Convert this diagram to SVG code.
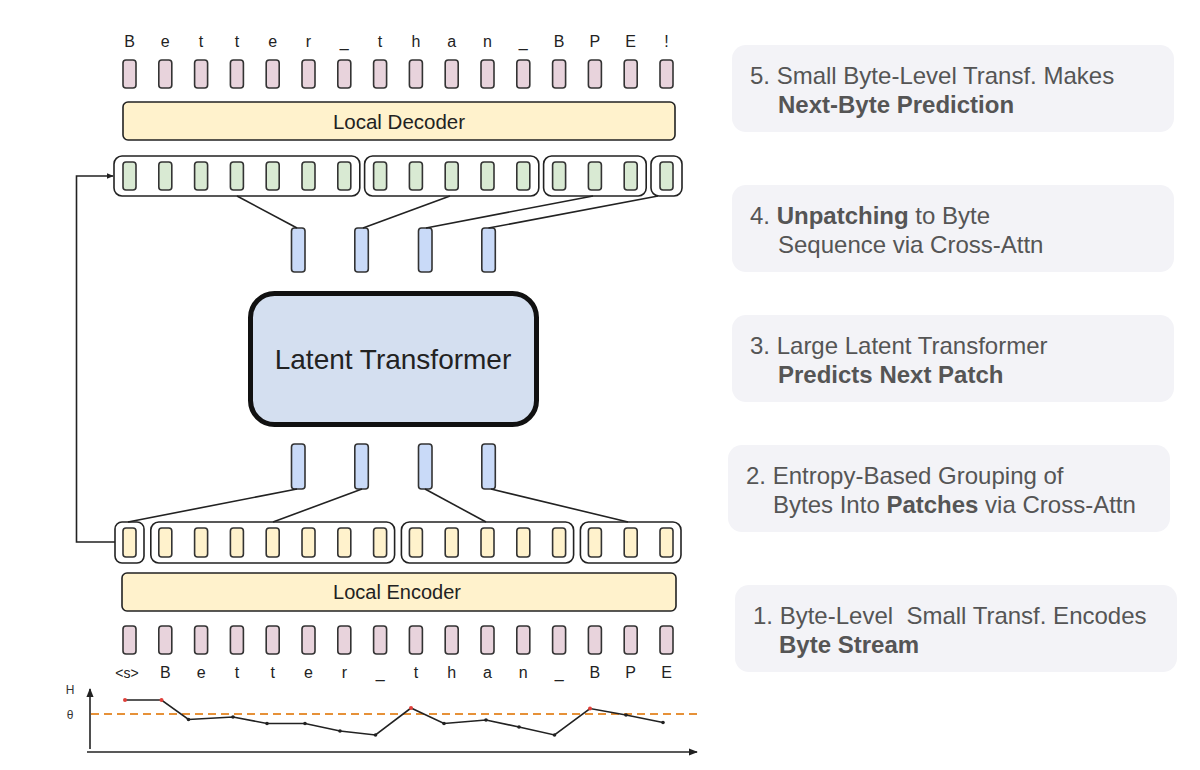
<svg xmlns="http://www.w3.org/2000/svg" width="1200" height="770" viewBox="0 0 1200 770">
<defs>
<style>
.lbl{font-family:"Liberation Sans",Arial,sans-serif;fill:#222;text-anchor:middle}
.let{font-size:16px}
.byte{stroke:#333;stroke-width:1.6}
.pink{fill:#e8d3dc}
.green{fill:#d9ead3}
.yellow{fill:#fff2cc}
.blue{fill:#c9daf8;stroke:#333;stroke-width:1.6}
.grp{fill:none;stroke:#222;stroke-width:1.6}
.conn{stroke:#222;stroke-width:1.6;fill:none}
.panel{fill:#f3f3f7}
.pt{font-family:"Liberation Sans",Arial,sans-serif;font-size:24px;fill:#555}
.b{font-weight:bold}
</style>
<marker id="ah" viewBox="0 0 10 10" refX="9" refY="5" markerWidth="7" markerHeight="7" orient="auto" markerUnits="userSpaceOnUse">
<path d="M0,1 L10,5 L0,9 z" fill="#222"/>
</marker>
<marker id="ax" viewBox="0 0 10 10" refX="9" refY="5" markerWidth="9" markerHeight="9" orient="auto" markerUnits="userSpaceOnUse">
<path d="M0,1 L10,5 L0,9 z" fill="#222"/>
</marker>
</defs>
<rect width="1200" height="770" fill="#fff"/>

<g id="output-letters" class="lbl let">
<text x="129.5" y="47">B</text><text x="165.3" y="47">e</text><text x="201.1" y="47">t</text><text x="236.9" y="47">t</text>
<text x="272.7" y="47">e</text><text x="308.5" y="47">r</text><text x="344.3" y="47">_</text><text x="380.1" y="47">t</text>
<text x="415.9" y="47">h</text><text x="451.7" y="47">a</text><text x="487.5" y="47">n</text><text x="523.3" y="47">_</text>
<text x="559.1" y="47">B</text><text x="594.9" y="47">P</text><text x="630.7" y="47">E</text><text x="666.5" y="47">!</text>
</g>

<g id="output-bytes" class="byte pink">
<rect x="123" y="60" width="13" height="28" rx="3"/><rect x="158.8" y="60" width="13" height="28" rx="3"/>
<rect x="194.6" y="60" width="13" height="28" rx="3"/><rect x="230.4" y="60" width="13" height="28" rx="3"/>
<rect x="266.2" y="60" width="13" height="28" rx="3"/><rect x="302" y="60" width="13" height="28" rx="3"/>
<rect x="337.8" y="60" width="13" height="28" rx="3"/><rect x="373.6" y="60" width="13" height="28" rx="3"/>
<rect x="409.4" y="60" width="13" height="28" rx="3"/><rect x="445.2" y="60" width="13" height="28" rx="3"/>
<rect x="481" y="60" width="13" height="28" rx="3"/><rect x="516.8" y="60" width="13" height="28" rx="3"/>
<rect x="552.6" y="60" width="13" height="28" rx="3"/><rect x="588.4" y="60" width="13" height="28" rx="3"/>
<rect x="624.2" y="60" width="13" height="28" rx="3"/><rect x="660" y="60" width="13" height="28" rx="3"/>
</g>

<g id="local-decoder">
<rect x="123" y="102" width="552" height="38" rx="5" fill="#fff2cc" stroke="#222" stroke-width="1.6"/>
<text class="lbl" x="399" y="129" font-size="20.5">Local Decoder</text>
</g>

<g id="decoder-patches">
<rect class="grp" x="114" y="156" width="245.8" height="40" rx="8"/>
<rect class="grp" x="364.6" y="156" width="174.2" height="40" rx="8"/>
<rect class="grp" x="543.6" y="156" width="102.6" height="40" rx="8"/>
<rect class="grp" x="651" y="156" width="31" height="40" rx="8"/>
<g class="byte green">
<rect x="123" y="162" width="13" height="28" rx="3"/><rect x="158.8" y="162" width="13" height="28" rx="3"/>
<rect x="194.6" y="162" width="13" height="28" rx="3"/><rect x="230.4" y="162" width="13" height="28" rx="3"/>
<rect x="266.2" y="162" width="13" height="28" rx="3"/><rect x="302" y="162" width="13" height="28" rx="3"/>
<rect x="337.8" y="162" width="13" height="28" rx="3"/><rect x="373.6" y="162" width="13" height="28" rx="3"/>
<rect x="409.4" y="162" width="13" height="28" rx="3"/><rect x="445.2" y="162" width="13" height="28" rx="3"/>
<rect x="481" y="162" width="13" height="28" rx="3"/><rect x="516.8" y="162" width="13" height="28" rx="3"/>
<rect x="552.6" y="162" width="13" height="28" rx="3"/><rect x="588.4" y="162" width="13" height="28" rx="3"/>
<rect x="624.2" y="162" width="13" height="28" rx="3"/><rect x="660" y="162" width="13" height="28" rx="3"/>
</g>
</g>

<g id="upper-patch-vectors">
<rect class="blue" x="291.5" y="228" width="13.5" height="44" rx="3"/>
<rect class="blue" x="354.8" y="228" width="13.5" height="44" rx="3"/>
<rect class="blue" x="418.5" y="228" width="13.5" height="44" rx="3"/>
<rect class="blue" x="481.8" y="228" width="13.5" height="44" rx="3"/>
</g>

<g id="latent-transformer">
<rect x="250.5" y="293.5" width="286" height="131" rx="24" fill="#d4dff0" stroke="#111" stroke-width="5"/>
<text class="lbl" x="393" y="369" font-size="28" fill="#111">Latent Transformer</text>
</g>

<g id="lower-patch-vectors">
<rect class="blue" x="291.5" y="444" width="13.5" height="45" rx="3"/>
<rect class="blue" x="354.8" y="444" width="13.5" height="45" rx="3"/>
<rect class="blue" x="418.5" y="444" width="13.5" height="45" rx="3"/>
<rect class="blue" x="481.8" y="444" width="13.5" height="45" rx="3"/>
</g>

<g id="encoder-patches">
<rect class="grp" x="115" y="522" width="29" height="41" rx="7"/>
<rect class="grp" x="150.8" y="522" width="243.8" height="41" rx="8"/>
<rect class="grp" x="401.4" y="522" width="172.2" height="41" rx="8"/>
<rect class="grp" x="580.4" y="522" width="100.6" height="41" rx="8"/>
<g class="byte yellow">
<rect x="123" y="528" width="13" height="29" rx="3"/><rect x="158.8" y="528" width="13" height="29" rx="3"/>
<rect x="194.6" y="528" width="13" height="29" rx="3"/><rect x="230.4" y="528" width="13" height="29" rx="3"/>
<rect x="266.2" y="528" width="13" height="29" rx="3"/><rect x="302" y="528" width="13" height="29" rx="3"/>
<rect x="337.8" y="528" width="13" height="29" rx="3"/><rect x="373.6" y="528" width="13" height="29" rx="3"/>
<rect x="409.4" y="528" width="13" height="29" rx="3"/><rect x="445.2" y="528" width="13" height="29" rx="3"/>
<rect x="481" y="528" width="13" height="29" rx="3"/><rect x="516.8" y="528" width="13" height="29" rx="3"/>
<rect x="552.6" y="528" width="13" height="29" rx="3"/><rect x="588.4" y="528" width="13" height="29" rx="3"/>
<rect x="624.2" y="528" width="13" height="29" rx="3"/><rect x="660" y="528" width="13" height="29" rx="3"/>
</g>
</g>

<g id="local-encoder">
<rect x="122" y="573" width="554" height="38" rx="5" fill="#fff2cc" stroke="#222" stroke-width="1.6"/>
<text class="lbl" x="397" y="599" font-size="20">Local Encoder</text>
</g>

<g id="input-bytes" class="byte pink">
<rect x="123" y="626" width="13" height="28" rx="3"/><rect x="158.8" y="626" width="13" height="28" rx="3"/>
<rect x="194.6" y="626" width="13" height="28" rx="3"/><rect x="230.4" y="626" width="13" height="28" rx="3"/>
<rect x="266.2" y="626" width="13" height="28" rx="3"/><rect x="302" y="626" width="13" height="28" rx="3"/>
<rect x="337.8" y="626" width="13" height="28" rx="3"/><rect x="373.6" y="626" width="13" height="28" rx="3"/>
<rect x="409.4" y="626" width="13" height="28" rx="3"/><rect x="445.2" y="626" width="13" height="28" rx="3"/>
<rect x="481" y="626" width="13" height="28" rx="3"/><rect x="516.8" y="626" width="13" height="28" rx="3"/>
<rect x="552.6" y="626" width="13" height="28" rx="3"/><rect x="588.4" y="626" width="13" height="28" rx="3"/>
<rect x="624.2" y="626" width="13" height="28" rx="3"/><rect x="660" y="626" width="13" height="28" rx="3"/>
</g>

<g id="input-letters" class="lbl let">
<text x="127" y="678" font-size="14">&lt;s&gt;</text><text x="165.3" y="678">B</text><text x="201.1" y="678">e</text><text x="236.9" y="678">t</text>
<text x="272.7" y="678">t</text><text x="308.5" y="678">e</text><text x="344.3" y="678">r</text><text x="380.1" y="678">_</text>
<text x="415.9" y="678">t</text><text x="451.7" y="678">h</text><text x="487.5" y="678">a</text><text x="523.3" y="678">n</text>
<text x="559.1" y="678">_</text><text x="594.9" y="678">B</text><text x="630.7" y="678">P</text><text x="666.5" y="678">E</text>
</g>

<g id="connectors">
<line class="conn" x1="237" y1="196" x2="297" y2="228"/>
<line class="conn" x1="450" y1="196" x2="363" y2="228"/>
<line class="conn" x1="593" y1="196" x2="426" y2="228"/>
<line class="conn" x1="658" y1="196" x2="488.5" y2="228"/>
<line class="conn" x1="297" y1="489" x2="128" y2="522"/>
<line class="conn" x1="362" y1="489" x2="273" y2="522"/>
<line class="conn" x1="425" y1="489" x2="486" y2="522"/>
<line class="conn" x1="491" y1="489" x2="628" y2="522"/>
<path class="conn" d="M115 542 H76.5 V176 H113" marker-end="url(#ah)"/>
</g>

<g id="entropy-plot">
<line x1="90" y1="749" x2="90" y2="689" stroke="#222" stroke-width="1.6" marker-end="url(#ax)"/>
<line x1="87" y1="752" x2="697" y2="752" stroke="#222" stroke-width="1.6" marker-end="url(#ax)"/>
<line x1="91" y1="714" x2="702" y2="714" stroke="#e69138" stroke-width="1.8" stroke-dasharray="8,5"/>
<text x="70" y="694" font-family="Liberation Sans, Arial, sans-serif" font-size="12" fill="#333" text-anchor="middle">H</text>
<text x="70" y="719" font-family="Liberation Sans, Arial, sans-serif" font-size="12" fill="#333" text-anchor="middle">θ</text>
<polyline fill="none" stroke="#222" stroke-width="1.6" points="125,700 161.5,700 188.5,719.5 233,717 267,723.5 305,723.5 340,731 375.5,735 411,708 444,723.5 486,720 519,727 554.5,735 590,708.5 626,715 663,722.5"/>
<g fill="#222">
<circle cx="188.5" cy="719.5" r="1.8"/><circle cx="233" cy="717" r="1.8"/><circle cx="267" cy="723.5" r="1.8"/>
<circle cx="305" cy="723.5" r="1.8"/><circle cx="340" cy="731" r="1.8"/><circle cx="375.5" cy="735" r="1.8"/>
<circle cx="444" cy="723.5" r="1.8"/><circle cx="486" cy="720" r="1.8"/><circle cx="519" cy="727" r="1.8"/>
<circle cx="554.5" cy="735" r="1.8"/><circle cx="626" cy="715" r="1.8"/><circle cx="663" cy="722.5" r="1.8"/>
</g>
<g fill="#e0403a">
<circle cx="125" cy="700" r="2"/><circle cx="161.5" cy="700" r="2"/><circle cx="411" cy="708" r="2"/><circle cx="590" cy="708.5" r="2"/>
</g>
</g>

<g id="step5">
<rect class="panel" x="732" y="45" width="442" height="87" rx="14"/>
<text class="pt" x="750" y="84">5. Small Byte-Level Transf. Makes</text>
<text class="pt b" x="778" y="113">Next-Byte Prediction</text>
</g>
<g id="step4">
<rect class="panel" x="732" y="185" width="442" height="87" rx="14"/>
<text class="pt" x="750" y="224">4. <tspan class="b">Unpatching</tspan> to Byte</text>
<text class="pt" x="778" y="253">Sequence via Cross-Attn</text>
</g>
<g id="step3">
<rect class="panel" x="732" y="315" width="442" height="87" rx="14"/>
<text class="pt" x="750" y="354">3. Large Latent Transformer</text>
<text class="pt b" x="778" y="383">Predicts Next Patch</text>
</g>
<g id="step2">
<rect class="panel" x="728" y="445" width="442" height="87" rx="14"/>
<text class="pt" x="746" y="484">2. Entropy-Based Grouping of</text>
<text class="pt" x="773" y="513">Bytes Into <tspan class="b">Patches</tspan> via Cross-Attn</text>
</g>
<g id="step1">
<rect class="panel" x="735" y="585" width="442" height="87" rx="14"/>
<text class="pt" x="753" y="624" xml:space="preserve">1. Byte-Level  Small Transf. Encodes</text>
<text class="pt b" x="779" y="653">Byte Stream</text>
</g>
</svg>
